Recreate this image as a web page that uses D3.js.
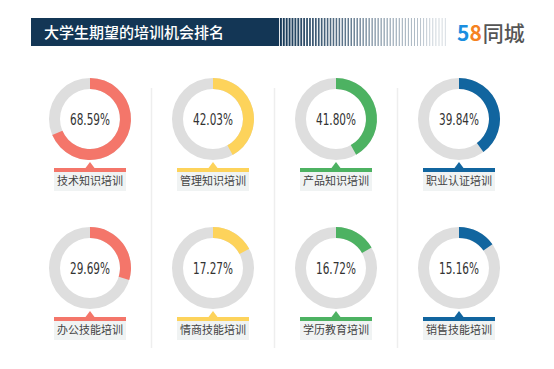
<!DOCTYPE html>
<html><head><meta charset="utf-8">
<script src="https://cdn.jsdelivr.net/npm/d3@7"></script>
<style>
html,body{margin:0;padding:0;background:#fff;}
svg{display:block;}
</style></head>
<body>
<svg id="chart" width="554" height="369"></svg>
<script>
const title = "大学生期望的培训机会排名";
const categories = ["技术知识培训","管理知识培训","产品知识培训","职业认证培训","办公技能培训","情商技能培训","学历教育培训","销售技能培训"];
const values = [68.59, 42.03, 41.80, 39.84, 29.69, 17.27, 16.72, 15.16];
const colors = ["#f4766a","#fdd35b","#4db262","#11659f","#f4766a","#fdd35b","#4db262","#11659f"];

const svg = d3.select("#chart");

// Title bar
svg.append("rect").attr("x",31).attr("y",18).attr("width",246).attr("height",28).attr("fill","#133655");
const stripeStart = 277, stripeEnd = 447;
const stripeScale = d3.scaleLinear().domain([stripeStart, stripeEnd]).range([1, 0.2]);
for (let x = stripeStart; x < stripeEnd; ) {
  const t = (x - stripeStart) / (stripeEnd - stripeStart);
  const w = Math.max(0.8, 2.0 - 1.3 * t);
  const gap = 0.9 + 1.5 * t;
  svg.append("rect").attr("x", x).attr("y", 18).attr("width", w).attr("height", 28)
    .attr("fill", "#133655").attr("opacity", stripeScale(x));
  x += w + gap;
}
svg.append("text").attr("x",44).attr("y",37.5)
  .attr("font-family","'Noto Sans CJK SC','Noto Sans',sans-serif")
  .attr("font-size",15).attr("font-weight",500).attr("fill","#ffffff").text(title);

// Logo
const logo = svg.append("text").attr("x",457).attr("y",41)
  .attr("font-family","'Noto Sans CJK SC',Roboto,sans-serif").attr("font-weight",700).attr("font-size",21);
logo.append("tspan").attr("fill","#1a8ee0").text("5");
logo.append("tspan").attr("fill","#f5821f").text("8");
logo.append("tspan").attr("fill","#555555").attr("font-weight",500).attr("dx",1).text("同城");

const colX = d3.scalePoint().domain([0,1,2,3]).range([90, 459]);
const rowY = d3.scalePoint().domain([0,1]).range([119, 268]);

[0,1,2].forEach(i => {
  const x = (colX(i) + colX(i+1)) / 2;
  svg.append("line").attr("x1",x).attr("x2",x).attr("y1",88).attr("y2",348)
    .attr("stroke","#eeeeee").attr("stroke-width",1.5);
});

const rOuter = 41, rInner = 30;
const arc = d3.arc().innerRadius(rInner).outerRadius(rOuter);
const angle = d3.scaleLinear().domain([0,100]).range([0, 2*Math.PI]);

categories.forEach((cat, i) => {
  const cx = colX(i % 4), cy = rowY(Math.floor(i / 4));
  const g = svg.append("g").attr("transform", `translate(${cx},${cy})`);
  g.append("path").attr("d", arc({startAngle:0, endAngle:2*Math.PI})).attr("fill","#dedede");
  g.append("path").attr("d", arc({startAngle:0, endAngle:angle(values[i])})).attr("fill", colors[i]);
  g.append("text").attr("x",0).attr("y",0).attr("dy","0.36em").attr("text-anchor","middle")
    .attr("font-family","'DejaVu Sans Condensed',Roboto,sans-serif")
    .attr("font-size",15.5).attr("fill","#333333")
    .attr("textLength",40).attr("lengthAdjust","spacingAndGlyphs")
    .text(values[i].toFixed(2) + "%");
  const by = rOuter + 8;
  g.append("rect").attr("x",-36).attr("y",by).attr("width",72).attr("height",4).attr("fill",colors[i]);
  g.append("path").attr("d", `M-4.5,${by} L0,${by-6} L4.5,${by} Z`).attr("fill",colors[i]);
  g.append("rect").attr("x",-36).attr("y",by+4).attr("width",72).attr("height",19).attr("fill","#f0f3f3");
  g.append("text").attr("x",0).attr("y",by+13.5).attr("dy","0.36em").attr("text-anchor","middle")
    .attr("font-family","'Noto Sans CJK SC',sans-serif").attr("font-size",11).attr("fill","#444444").text(cat);
});
</script>
</body></html>
